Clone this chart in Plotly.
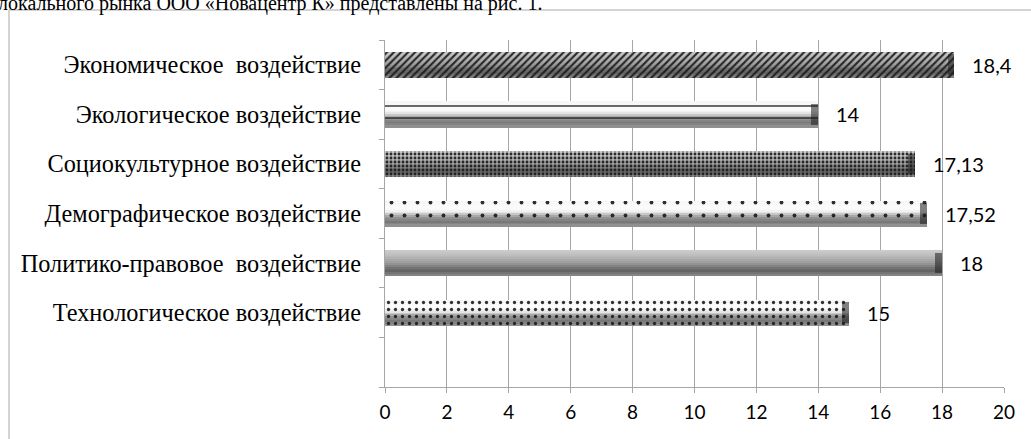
import plotly.graph_objects as go

# ---- data ----
categories = [
    "Экономическое  воздействие",
    "Экологическое воздействие",
    "Социокультурное воздействие",
    "Демографическое воздействие",
    "Политико-правовое  воздействие",
    "Технологическое воздействие",
    " ",
]
values = [18.4, 14, 17.13, 17.52, 18, 15, None]
value_labels = ["18,4", "14", "17,13", "17,52", "18", "15", ""]
x_ticks = [0, 2, 4, 6, 8, 10, 12, 14, 16, 18, 20]
header_text = "локального рынка ООО «Новацентр К» представлены на рис. 1."

# ---- styles ----
pattern_shapes = ["/", "-", ".", ".", "", ".", ""]
pattern_sizes = [5, 12, 4, 13, 8, 7, 8]
pattern_solid = [0.42, 0.12, 0.4, 0.07, 0.1, 0.17, 0.1]
light_rows = [False, True, False, True, False, True, False]

W, H = 1031, 439
ML, MR, MT, MB = 385, 27, 40, 52
pw, ph = W - ML - MR, H - MT - MB

BAR_W = 0.52
# colour stops across bar thickness (0 = top edge, 1 = bottom edge)
stops_std = [(0.0, 205), (0.3, 180), (0.5, 155), (0.7, 110), (0.82, 100), (1.0, 140)]
stops_light = [(0.0, 245), (0.3, 252), (0.45, 235), (0.65, 150), (0.82, 120), (1.0, 150)]
N_BANDS = 14


def shade(stops, t):
    for (a, ca), (b, cb) in zip(stops, stops[1:]):
        if a <= t <= b:
            g = int(round(ca + (cb - ca) * (t - a) / (b - a)))
            return f"rgb({g},{g},{g})"
    g = stops[-1][1]
    return f"rgb({g},{g},{g})"


fig = go.Figure()

# gradient bands (cylinder shading)
for b in range(N_BANDS):
    t0, t1 = b / N_BANDS, (b + 1) / N_BANDS
    tm = (t0 + t1) / 2
    cols = [shade(stops_light if lt else stops_std, tm) for lt in light_rows]
    fig.add_trace(go.Bar(
        y=categories, x=values, orientation="h",
        width=BAR_W * (t1 - t0) + 0.002, offset=BAR_W / 2 - BAR_W * t1,
        marker=dict(color=cols, line=dict(width=0)),
        hoverinfo="skip", showlegend=False,
    ))

# pattern overlay
fig.add_trace(go.Bar(
    y=categories, x=values, orientation="h",
    width=BAR_W, offset=-BAR_W / 2,
    marker=dict(
        color="rgba(0,0,0,0)",
        line=dict(width=0),
        pattern=dict(shape=pattern_shapes, size=pattern_sizes, solidity=pattern_solid,
                     fgcolor="#1a1a1a", fgopacity=0.9, fillmode="overlay"),
    ),
    hoverinfo="skip", showlegend=False,
))

# dark bevel cap at the bar ends
cap = 0.22
fig.add_trace(go.Bar(
    y=categories, x=[cap if v is not None else None for v in values],
    base=[v - cap if v is not None else None for v in values], orientation="h",
    width=BAR_W * 0.8, offset=-BAR_W * 0.4,
    marker=dict(color="rgba(30,30,30,0.55)", line=dict(width=0)),
    hoverinfo="skip", showlegend=False,
))

# value labels
for c, v, lab in zip(categories, values, value_labels):
    if v is None:
        continue
    fig.add_annotation(x=v, y=c, text=lab, showarrow=False, xanchor="left",
                       xshift=16, font=dict(family="Lato, Carlito, sans-serif", size=20, color="#000000"))

# header text (cut at top)
fig.add_annotation(x=(-4 - ML) / pw, y=(H - MB - 17) / ph, xref="paper", yref="paper",
                   text=header_text, showarrow=False, xanchor="left", yanchor="bottom",
                   font=dict(family="Liberation Serif, Times New Roman, serif", size=20, color="#000"))

# outer chart frame (left & top)
fig.add_shape(type="line", xref="paper", yref="paper",
              x0=(9 - ML) / pw, x1=(9 - ML) / pw, y0=(H - MB - 10) / ph, y1=(H - MB - 460) / ph,
              line=dict(color="#d4d4d4", width=2))
fig.add_shape(type="line", xref="paper", yref="paper",
              x0=(9 - ML) / pw, x1=(1100 - ML) / pw, y0=(H - MB - 10) / ph, y1=(H - MB - 10) / ph,
              line=dict(color="#d4d4d4", width=2))

fig.update_layout(
    width=W, height=H, autosize=False,
    margin=dict(l=ML, r=MR, t=MT, b=MB),
    paper_bgcolor="white", plot_bgcolor="white",
    barmode="overlay", bargap=0, showlegend=False,
    xaxis=dict(range=[0, 20], tickvals=x_ticks, showgrid=True, gridcolor="#a6a6a6", gridwidth=1,
               zeroline=False, showline=True, linecolor="#a6a6a6", linewidth=1,
               ticks="outside", ticklen=5, tickcolor="#a6a6a6",
               tickfont=dict(family="Lato, Carlito, sans-serif", size=19, color="#000"),
               ticklabelstandoff=3),
    yaxis=dict(type="category", categoryorder="array", categoryarray=categories[::-1],
               range=[-0.5, 6.5], autorange=False,
               showgrid=False, zeroline=False, showline=True, linecolor="#a6a6a6", linewidth=1,
               ticks="outside", ticklen=5, tickcolor="#a6a6a6", tickson="boundaries",
               tickfont=dict(family="Liberation Serif, Times New Roman, serif", size=24.3, color="#000"),
               ticklabelstandoff=18),
)

fig.write_html("out.html", config={"displayModeBar": False},
               post_script="document.body.style.margin='0';")
